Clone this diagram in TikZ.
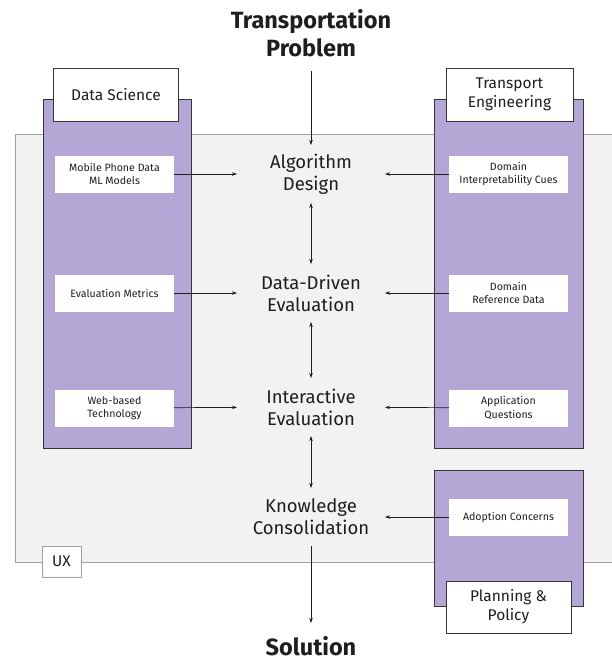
\documentclass[tikz,border=0pt]{standalone}
\usepackage{fontspec}
\setmainfont{Fira Sans}
\usetikzlibrary{arrows.meta}
\definecolor{lav}{RGB}{180,167,213}
\definecolor{panelgray}{RGB}{242,242,242}
\definecolor{panelline}{RGB}{160,160,160}
\definecolor{ink}{RGB}{30,30,30}
\begin{document}
\begin{tikzpicture}[x=1pt,y=-1pt,
  every node/.style={text=ink, align=center, inner sep=0pt, outer sep=0pt},
  panel/.style={fill=panelgray, draw=panelline, line width=0.7pt},
  column/.style={fill=lav, draw=ink!90, line width=0.9pt},
  header/.style={fill=white, draw=ink!90, line width=0.9pt, font=\fontsize{15.5}{19}\selectfont},
  item/.style={fill=white, minimum width=119pt, minimum height=37pt, font=\fontsize{10.6}{13.5}\selectfont},
  stage/.style={minimum width=148pt, minimum height=58pt, font=\fontsize{18.5}{22}\selectfont},
  endpoint/.style={font=\bfseries\fontsize{23.5}{27.5}\selectfont},
  uxtag/.style={fill=white, draw=panelline, line width=0.7pt, font=\fontsize{15.5}{18}\selectfont},
  arr/.style={-{Stealth[length=5pt,width=3.5pt]}, line width=0.7pt, draw=ink},
  darr/.style={{Stealth[length=5pt,width=3.5pt]}-{Stealth[length=5pt,width=3.5pt]}, line width=0.7pt, draw=ink}
]
\useasboundingbox (0,0) rectangle (612,667);

% UX panel in the background, running off the right edge
\node[panel, minimum width=600pt, minimum height=428pt] (uxpanel) at (315,348) {};
\node[uxtag, minimum width=39pt, minimum height=31pt] (ux) at (61.5,561.5) {UX};

% discipline columns
\node[column, minimum width=148pt, minimum height=349pt] (dscol) at (117,273.5) {};
\node[column, minimum width=149pt, minimum height=349pt] (tecol) at (508.5,273.5) {};
\node[column, minimum width=149pt, minimum height=136pt] (ppcol) at (508.5,538) {};

\node[header, minimum width=125pt, minimum height=53pt] (dshead) at (116,94.5) {Data Science};
\node[header, minimum width=127pt, minimum height=53pt] (tehead) at (509.5,94.5) {Transport\\Engineering};
\node[header, minimum width=125pt, minimum height=52pt] (pphead) at (508.5,607) {Planning \&\\Policy};

% inputs per discipline
\node[item] (mobile) at (114.5,174) {Mobile Phone Data\\ML Models};
\node[item] (metrics) at (114.5,293) {Evaluation Metrics};
\node[item] (web) at (114.5,408) {Web-based\\Technology};
\node[item] (cues) at (508.5,174) {Domain\\Interpretability Cues};
\node[item] (refdata) at (508.5,293) {Domain\\Reference Data};
\node[item] (questions) at (508.5,408) {Application\\Questions};
\node[item] (adoption) at (508.5,517) {Adoption Concerns};

% process stages
\node[endpoint, minimum height=60pt] (problem) at (311,33) {Transportation\\Problem};
\node[stage] (algo) at (311,174) {Algorithm\\Design};
\node[stage] (dde) at (311,293) {Data-Driven\\Evaluation};
\node[stage] (inter) at (311,407) {Interactive\\Evaluation};
\node[stage] (know) at (311,517) {Knowledge\\Consolidation};
\node[endpoint, minimum height=46pt] (solution) at (311,646) {Solution};

% flow
\draw[arr, shorten <=8pt] (problem) -- (algo);
\draw[darr] (algo) -- (dde);
\draw[darr] (dde) -- (inter);
\draw[darr] (inter) -- (know);
\draw[arr] (know) -- (solution);

\draw[arr] (mobile) -- (algo);
\draw[arr] (metrics) -- (dde);
\draw[arr] (web) -- (inter);
\draw[arr] (cues) -- (algo);
\draw[arr] (refdata) -- (dde);
\draw[arr] (questions) -- (inter);
\draw[arr] (adoption) -- (know);
\end{tikzpicture}
\end{document}
